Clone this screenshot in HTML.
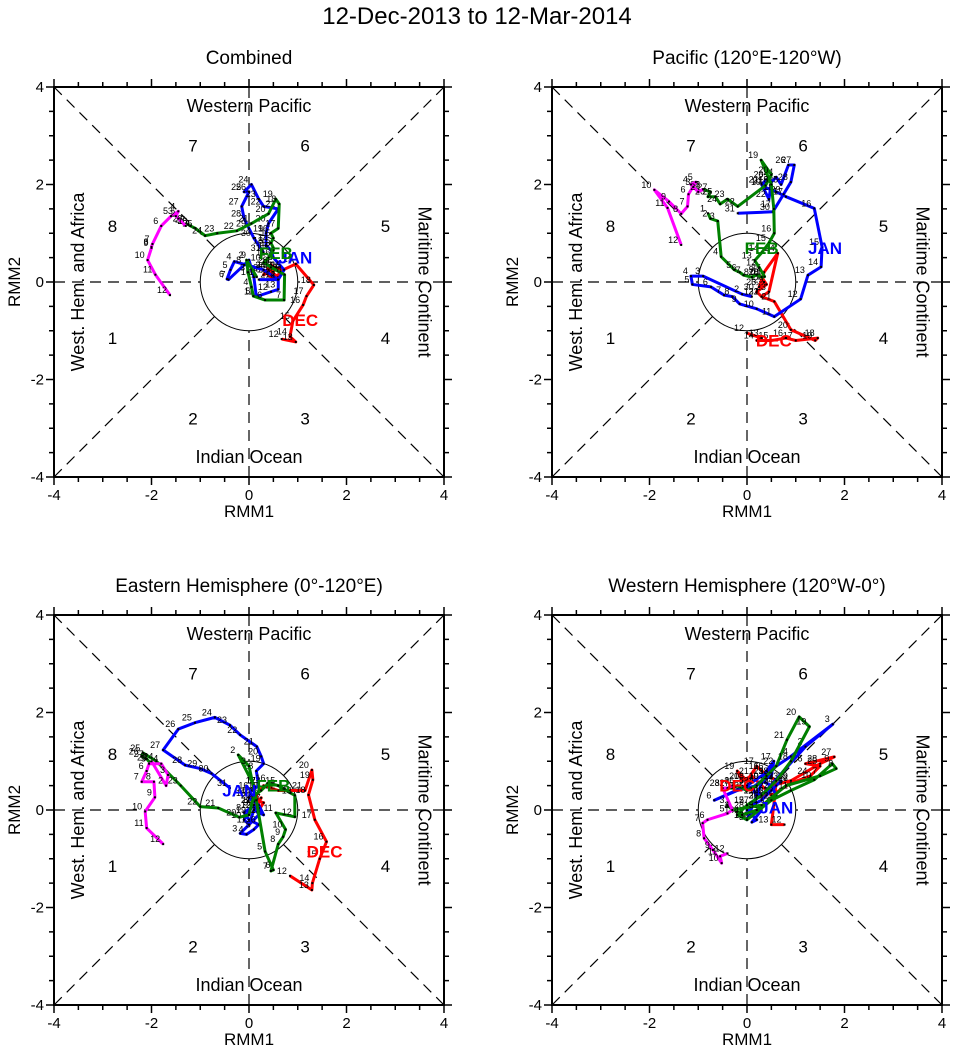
<!DOCTYPE html>
<html><head><meta charset="utf-8"><style>
body{margin:0;background:#fff;}
svg{display:block;font-family:"Liberation Sans",Arial,sans-serif;}
</style></head><body>
<svg id="fig" width="954" height="1057" viewBox="0 0 954 1057">
<text x="477" y="24" font-size="24" text-anchor="middle">12-Dec-2013 to 12-Mar-2014</text>
</svg>
<script>
// ---- data (RMM1, RMM2 per day) ----
const panelTitles = ["Combined","Pacific (120°E-120°W)","Eastern Hemisphere (0°-120°E)","Western Hemisphere (120°W-0°)"];
const monthNames = ["DEC","JAN","FEB","MAR"];
const monthStartDay = [12,1,1,1];
// Panel 1: Combined
const p1Dec = [[0.67,-1.17],[0.96,-1.23],[0.84,-1.12],[0.9,-0.8],[1.11,-0.47],[1.18,-0.29],[1.33,-0.06],[0.96,0.37],[0.7,0.25],[0.5,0.31],[0.45,0.15],[0.6,0.1],[0.4,0.25],[0.55,0.3],[0.35,0.2],[0.5,0.05],[0.65,0.2],[0.45,0.35],[0.3,0.15],[0.55,0.25]];
const p1Jan = [[0.2,0.05],[0.6,0.05],[0.3,0.25],[-0.3,0.42],[-0.38,0.25],[-0.45,0.06],[-0.42,0.05],[-0.1,0.35],[0.0,0.45],[0.1,0.1],[0.15,-0.3],[0.45,-0.2],[0.6,-0.15],[0.6,0.05],[0.72,0.25],[0.5,0.5],[0.45,0.65],[0.35,0.75],[0.35,1.0],[0.4,1.2],[0.6,1.5],[0.3,1.55],[0.2,1.7],[0.05,2.0],[-0.1,1.85],[0.0,1.85],[-0.15,1.55],[-0.1,1.3],[0.0,1.1],[0.1,0.9],[0.3,0.6]];
const p1Feb = [[0.16,0.1],[-0.05,0.45],[-0.02,0.2],[0.05,-0.1],[0.09,-0.29],[0.33,-0.37],[0.72,-0.37],[0.73,0.15],[0.45,0.3],[0.3,0.4],[0.4,0.5],[0.5,0.65],[0.5,0.7],[0.45,0.8],[0.5,0.9],[0.45,1.0],[0.6,1.1],[0.62,1.6],[0.55,1.7],[0.4,1.4],[0.05,1.2],[-0.25,1.05],[-0.65,1.0],[-0.9,0.95],[-1.1,1.1],[-1.2,1.15],[-1.25,1.18],[-1.3,1.2]];
const p1Mar = [[-1.3,1.15],[-1.45,1.3],[-1.5,1.35],[-1.45,1.45],[-1.6,1.35],[-1.8,1.15],[-1.98,0.78],[-2.0,0.72],[-2.0,0.7],[-2.08,0.45],[-1.92,0.15],[-1.62,-0.27]];
// Panel 2: Pacific
const p2Dec = [[0.0,-1.05],[0.3,-1.15],[0.2,-1.2],[0.5,-1.2],[0.8,-1.15],[1.0,-1.2],[1.45,-1.15],[1.4,-1.2],[0.9,-0.98],[0.56,-0.4],[0.3,-0.3],[0.45,-0.2],[0.63,0.59],[0.35,0.2],[0.25,-0.1],[0.35,0.0],[0.3,0.1],[0.4,-0.05],[0.2,-0.2],[0.3,-0.3]];
const p2Jan = [[0.1,-0.3],[-0.1,-0.25],[-0.9,0.12],[-1.15,0.12],[-1.12,-0.05],[-0.74,-0.1],[-0.47,-0.27],[-0.3,-0.3],[-0.15,-0.45],[0.2,-0.55],[0.56,-0.71],[1.1,-0.35],[1.25,0.14],[1.52,0.31],[1.54,0.72],[1.38,1.51],[0.8,1.75],[0.6,1.85],[0.35,1.95],[0.4,2.1],[0.3,2.0],[0.45,1.7],[0.5,2.05],[0.6,2.15],[0.7,2.0],[0.85,2.4],[0.97,2.4],[0.9,2.05],[0.75,1.8],[0.53,1.44],[-0.19,1.41]];
const p2Feb = [[-0.8,1.41],[-0.75,1.3],[-0.6,1.25],[-0.53,0.52],[-0.26,0.25],[-0.15,0.2],[-0.07,0.14],[0.1,0.1],[0.2,0.15],[0.3,0.1],[0.36,0.11],[0.25,0.3],[0.16,0.44],[0.3,0.6],[0.45,0.8],[0.56,1.0],[0.55,1.5],[0.5,2.0],[0.29,2.5],[0.5,2.2],[0.38,1.98],[-0.19,1.55],[-0.4,1.7],[-0.55,1.6],[-0.65,1.75],[-0.8,1.75],[-0.75,1.85],[-0.9,1.9]];
const p2Mar = [[-0.9,1.9],[-1.0,1.85],[-1.1,1.95],[-1.15,2.0],[-1.05,2.05],[-1.2,1.8],[-1.22,1.55],[-1.35,1.4],[-1.6,1.65],[-1.9,1.89],[-1.63,1.52],[-1.35,0.76]];
// Panel 3: Eastern Hemisphere
const p3Dec = [[0.84,-1.35],[1.29,-1.64],[1.3,-1.5],[1.45,-1.0],[1.59,-0.65],[1.35,-0.2],[1.22,0.31],[1.31,0.62],[1.29,0.82],[1.15,0.4],[0.6,0.4],[0.3,0.5],[0.15,0.3],[0.2,0.1],[0.1,0.2],[0.3,0.15],[0.2,0.0],[0.1,0.1],[0.25,0.25],[0.15,0.05]];
const p3Jan = [[0.1,0.1],[0.2,-0.1],[-0.18,-0.48],[-0.05,-0.5],[0.1,-0.4],[0.2,-0.3],[0.0,-0.2],[-0.1,-0.05],[0.05,0.05],[-0.1,-0.2],[0.0,-0.3],[0.1,0.0],[0.3,-0.1],[0.2,0.1],[0.0,0.25],[0.05,0.4],[0.2,0.5],[0.15,0.8],[0.3,0.95],[0.25,1.1],[0.16,1.3],[-0.18,1.54],[-0.39,1.74],[-0.7,1.9],[-1.11,1.79],[-1.45,1.66],[-1.76,1.23],[-1.31,0.92],[-1.0,0.85],[-0.77,0.75],[-0.39,0.45]];
const p3Feb = [[0.1,0.5],[-0.22,1.13],[0.0,0.9],[0.15,0.2],[0.33,-0.85],[0.5,-1.23],[0.45,-1.25],[0.6,-0.7],[0.7,-0.55],[0.75,-0.4],[0.55,-0.06],[0.94,-0.14],[0.94,0.3],[0.85,0.35],[0.6,0.5],[0.4,0.55],[0.25,0.4],[0.1,0.3],[0.0,-0.1],[-0.2,-0.15],[-0.63,0.04],[-1.0,0.07],[-1.4,0.5],[-1.9,1.0],[-2.17,1.17],[-2.2,1.1],[-2.1,1.05],[-2.03,0.97]];
const p3Mar = [[-2.0,1.0],[-1.7,0.5],[-1.66,0.72],[-1.8,0.95],[-2.05,0.95],[-2.1,0.8],[-2.2,0.58],[-1.95,0.58],[-1.93,0.26],[-2.13,-0.03],[-2.1,-0.37],[-1.76,-0.7]];
// Panel 4: Western Hemisphere
const p4Dec = [[0.77,-0.3],[0.5,-0.3],[0.55,0.1],[0.6,0.6],[0.3,0.8],[0.2,0.9],[0.0,0.6],[-0.2,0.8],[-0.1,0.6],[0.1,0.7],[0.5,0.3],[0.9,0.55],[1.3,0.7],[1.5,0.9],[1.2,0.95],[1.79,1.09],[1.5,0.95],[0.9,0.6],[0.5,0.5],[0.3,0.2]];
const p4Jan = [[0.3,0.3],[1.2,1.3],[1.76,1.76],[0.9,1.1],[0.0,0.5],[-0.67,0.2],[-0.2,0.4],[0.2,0.5],[0.4,0.7],[0.3,0.6],[0.5,0.5],[0.6,0.3],[0.2,0.0],[0.0,-0.2],[0.2,0.3],[0.4,0.8],[0.55,1.0],[0.5,0.7],[0.3,0.6],[0.1,0.45],[0.2,0.3],[0.5,0.4],[0.7,0.6],[0.6,0.5],[0.4,0.3],[0.3,0.2],[0.1,0.1],[0.0,0.0],[0.2,-0.2],[0.1,-0.25],[0.3,0.0]];
const p4Feb = [[0.3,0.1],[-0.3,0.0],[-0.4,0.1],[-0.1,-0.1],[0.2,0.0],[0.8,0.5],[1.5,0.7],[1.83,0.85],[1.75,0.95],[1.38,0.62],[0.9,0.4],[0.5,0.2],[0.0,-0.2],[-0.2,-0.1],[0.0,0.1],[0.3,0.3],[0.6,0.6],[0.9,1.0],[1.28,1.71],[1.07,1.91],[0.82,1.44],[0.6,0.9],[0.4,0.7],[0.2,0.5],[0.0,0.4],[-0.2,0.5],[-0.3,0.45],[-0.5,0.45]];
const p4Mar = [[-0.3,0.5],[-0.4,0.45],[-0.5,0.45],[-0.3,0.0],[-0.4,-0.07],[-0.81,-0.2],[-0.91,-0.27],[-0.88,-0.58],[-0.7,-0.82],[-0.52,-1.09],[-0.55,-0.95],[-0.4,-0.89]];
// month label positions (data units)
const p1MonthLbl = [[1.05,-0.78],[0.95,0.5],[0.55,0.6]];
const p2MonthLbl = [[0.55,-1.2],[1.6,0.7],[0.3,0.7]];
const p3MonthLbl = [[1.55,-0.85],[-0.2,0.4],[0.5,0.5]];
const p4MonthLbl = [[-0.2,0.5],[0.6,0.05],[null,null]];

const panels = [
 {x0:54,y0:87,months:[p1Dec,p1Jan,p1Feb,p1Mar],lbl:p1MonthLbl},
 {x0:552,y0:87,months:[p2Dec,p2Jan,p2Feb,p2Mar],lbl:p2MonthLbl},
 {x0:54,y0:615,months:[p3Dec,p3Jan,p3Feb,p3Mar],lbl:p3MonthLbl},
 {x0:552,y0:615,months:[p4Dec,p4Jan,p4Feb,p4Mar],lbl:p4MonthLbl}
];
const colors = ["#ff0000","#0000ff","#008000","#ff00ff"];
const S = 390, U = S/8;
const NS = "http://www.w3.org/2000/svg";
const svg = document.getElementById('fig');
function mk(tag, attrs, parent, txt){
  const e = document.createElementNS(NS, tag);
  for (const k in attrs) e.setAttribute(k, attrs[k]);
  if (txt !== undefined) e.textContent = txt;
  parent.appendChild(e); return e;
}
panels.forEach((p, pi) => {
  const sx = v => p.x0 + (v + 4) * U;
  const sy = v => p.y0 + (4 - v) * U;
  const g = mk('g', {}, svg);
  
  
  const t = mk('text', {x: sx(0), y: p.y0 - 23, 'font-size': 19, 'text-anchor': 'middle'}, g, panelTitles[pi]);
  
  
  const r = U, d = r / Math.SQRT2;
  const guides = [[0,4,0,1],[0,-4,0,-1],[-4,0,-1,0],[4,0,1,0],[-4,4,-d/U,d/U],[4,4,d/U,d/U],[-4,-4,-d/U,-d/U],[4,-4,d/U,-d/U]];
  guides.forEach(q => {
    const l = mk('line', {x1:sx(q[0]),y1:sy(q[1]),x2:sx(q[2]),y2:sy(q[3]),stroke:'#000','stroke-width':1.2,'stroke-dasharray':'11,7'}, g);
    
    
  });
  const c = mk('circle', {cx:sx(0),cy:sy(0),r:U,fill:'none',stroke:'#000','stroke-width':1}, g);
  
  
  const ph = [[1,-2.8,-1.15],[2,-1.15,-2.8],[3,1.15,-2.8],[4,2.8,-1.15],[5,2.8,1.15],[6,1.15,2.8],[7,-1.15,2.8],[8,-2.8,1.15]];
  ph.forEach(q => {
    const tt = mk('text', {x:sx(q[1]),y:sy(q[2])+6,'font-size':17,'text-anchor':'middle'}, g, String(q[0]));
    
    
  });
  const regs = [["Western Pacific",sx(0),p.y0+25,0],["Indian Ocean",sx(0),p.y0+S-14,0],["West. Hem. and Africa",p.x0+25,sy(0),-90],["Maritime Continent",p.x0+S-21,sy(0),90]];
  regs.forEach(q => {
    const tt = mk('text', {x:q[1],y:q[2],'font-size':18,'text-anchor':'middle',transform:`rotate(${q[3]} ${q[1]} ${q[2]})`,'dominant-baseline':q[3]?'middle':'auto'}, g, q[0]);
    
    
  });
  p.months.forEach((pts, mi) => {
    const poly = mk('polyline', {points: pts.map(v => sx(v[0])+','+sy(v[1])).join(' '), fill:'none', stroke: colors[mi], 'stroke-width': 3, 'stroke-linejoin':'round'}, g);
    
    
    pts.forEach((v, i) => {
      const dt = mk('rect', {x:sx(v[0])-1,y:sy(v[1])-1,width:2,height:2,fill:'#000'}, g);
      
      
      const lb = mk('text', {x:sx(v[0])-3,y:sy(v[1])-2,'font-size':9,'text-anchor':'end',fill:'#000'}, g, String(monthStartDay[mi]+i));
      
      
    });
  });
  p.lbl.forEach((v, mi) => {
    if (v[0] === null) return;
    const ml = mk('text', {x:sx(v[0]),y:sy(v[1])+6,'font-size':17,'font-weight':'bold','text-anchor':'middle',fill:colors[mi]}, g, monthNames[mi]);
    
    
  });
  const fr = mk('rect', {x:p.x0,y:p.y0,width:S,height:S,fill:'none',stroke:'#000','stroke-width':2}, g);
  
  
  for (let k = -8; k <= 8; k++) {
    const v = k/2, major = k % 4 === 0, len = major ? 8 : 5;
    mk('line', {x1:sx(v),y1:p.y0+S,x2:sx(v),y2:p.y0+S+len,stroke:'#000','stroke-width':1.5}, g);
    mk('line', {x1:sx(v),y1:p.y0,x2:sx(v),y2:p.y0-len,stroke:'#000','stroke-width':1.5}, g);
    mk('line', {x1:p.x0,y1:sy(v),x2:p.x0-len,y2:sy(v),stroke:'#000','stroke-width':1.5}, g);
    mk('line', {x1:p.x0+S,y1:sy(v),x2:p.x0+S+len,y2:sy(v),stroke:'#000','stroke-width':1.5}, g);
    if (major) {
      const xl = mk('text', {x:sx(v),y:p.y0+S+23,'font-size':15,'text-anchor':'middle'}, g, String(v));
      
      
      const yl = mk('text', {x:p.x0-10,y:sy(v)+5,'font-size':15,'text-anchor':'end'}, g, String(v));
      
      
    }
  }
  const xt = mk('text', {x:sx(0),y:p.y0+S+40,'font-size':17,'text-anchor':'middle'}, g, 'RMM1');
  
  
  const yx = p.x0 - 34, yy = sy(0);
  const yt = mk('text', {x:yx,y:yy,'font-size':17,'text-anchor':'middle',transform:`rotate(-90 ${yx} ${yy})`}, g, 'RMM2');
  
  
});
</script>
</body></html>
